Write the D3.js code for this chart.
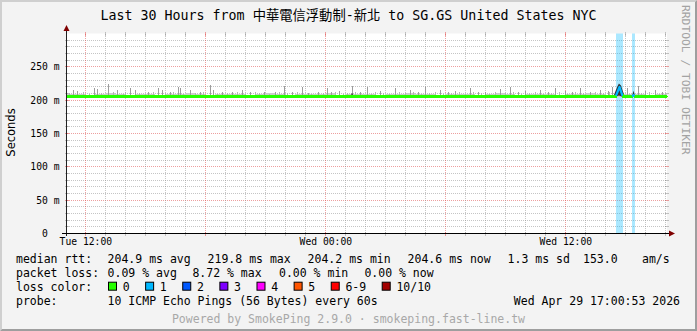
<!DOCTYPE html>
<html><head><meta charset="utf-8">
<script src="https://cdn.jsdelivr.net/npm/d3@7"></script>
<style>
body{margin:0;background:#f3f3f3}
svg{display:block}
.mono{font-family:"DejaVu Sans Mono","Noto Sans CJK TC",monospace}
</style>
</head><body>
<svg id="c" width="697" height="331"></svg>
<script>
// ---------------- data ----------------
const titleText = "Last 30 Hours from 中華電信浮動制-新北 to SG.GS United States NYC";
const yTicks = [0, 50, 100, 150, 200, 250];
const yMax = 300;
// time axis in hours since Tue 00:00
const timeStart = 11 + 5/60, timeEnd = 41 + 5/60;
const xTickHours = [12, 24, 36];
const xTickLabels = ["Tue 12:00", "Wed 00:00", "Wed 12:00"];

// median RTT (ms)
const medianHours  = [11.08,12,13,14,15,16,17,18,19,20,21,22,23,24,25,26,27,28,29,30,31,32,33,34,35,36,37,38,38.48,38.53,38.62,38.71,38.79,38.86,38.92,39.3,39.34,39.41,39.48,39.52,40,41.08];
const medianValues = [205.3,205.1,205.2,204.9,205.0,205.2,204.8,205.1,205.0,204.9,205.2,205.0,204.8,205.1,205.0,204.9,205.1,205.0,204.8,205.0,205.2,204.9,205.0,204.8,205.1,204.9,205.0,204.9,205.1,206.5,213.0,219.8,212.5,206.5,205.0,205.1,205.8,207.5,205.8,205.0,204.9,204.6];
const medianLoss   = [0,0,0,0,0,0,0,0,0,0,0,0,0,0,0,0,0,0,0,0,0,0,0,0,0,0,0,0,0,1,1,1,1,0,0,0,1,1,0,0,0,0];

// loss periods (full-height background)
const lossStartHours = [38.53, 39.33];
const lossEndHours   = [38.86, 39.48];
const lossCounts     = [1, 1];

// light smoke band top (ms), every 30 min from 11:00
const smokeBandTop = [209,210,208,209,211,209,208,210,209,208,209,210,211,209,208,209,210,209,208,210,211,209,208,209,210,209,211,208,209,210,209,208,210,209,211,210,209,208,209,210,209,208,210,211,209,208,209,210,209,208,209,210,211,209,208,209,210,209,208,210,209,208];
// tall smoke spikes: time (h) and max ping (ms)
const spikeHours = [11.38,11.58,12.43,12.58,13.13,13.58,14.23,14.48,15.13,15.63,15.83,16.23,16.63,16.73,17.23,17.73,18.23,18.38,18.83,19.33,19.83,20.23,20.93,21.48,21.93,22.33,22.83,23.13,23.63,24.08,24.28,24.68,25.33,25.73,26.08,26.73,27.48,28.23,28.63,28.98,29.73,30.13,30.48,31.23,31.63,31.98,32.73,33.23,33.63,33.98,34.73,35.13,35.48,35.98,36.33,36.73,37.23,37.73,38.13,38.33,39.08,39.63,39.98,40.48,40.83];
const spikeTops  = [215,214,219,217,225,215,219,216,212,218,215,213,220,218,215,212,223,215,212,213,216,213,213,212,222,213,220,211,213,218,213,214,222,213,220,214,218,215,212,220,216,213,214,218,212,213,217,220,213,214,216,212,219,214,212,218,213,216,214,220,218,222,214,216,213];
// small smoke spikes
const smallSpikeHours = [11.2,11.9,12.2,12.8,13.4,13.9,14.0,14.7,15.0,15.4,16.0,16.4,16.9,17.5,17.9,18.6,19.1,19.6,20.0,20.5,20.7,21.2,21.7,22.1,22.6,23.3,23.9,24.5,24.9,25.1,25.5,26.3,26.5,26.9,27.2,27.7,28.0,28.4,28.8,29.2,29.5,29.9,30.3,30.7,31.0,31.4,31.8,32.2,32.5,33.0,33.4,33.8,34.2,34.5,34.9,35.3,35.7,36.1,36.5,36.9,37.0,37.5,37.9,38.2,39.2,39.8,40.2,40.7,41.0];
const smallSpikeTops  = [211,212,210,211,213,210,212,211,210,212,211,213,210,211,212,210,211,213,210,212,211,210,212,211,213,210,211,212,210,211,213,210,212,211,210,212,211,213,210,211,212,210,211,213,210,212,211,210,212,211,213,210,211,212,210,211,213,210,212,211,210,212,211,213,210,211,212,210,211];
// dark smoke episodes: [hour, low ms, high ms]
const darkSmoke = [
  [[38.42,205,207],[38.50,205,213],[38.58,206,219],[38.68,207,225],[38.78,206,222],[38.86,205,215],[38.94,205,208]],
  [[39.36,205,209],[39.41,205,214],[39.46,205,209]],
  [[25.30,205,210],[25.37,205,210]]
];

// legend data
const rttLabels = ["avg","max","min","now"];
const rttValues = [204.9, 219.8, 204.2, 204.6];
const rttSd = 1.3;
const rttAmps = 153.0;
const lossLabels = ["avg","max","min","now"];
const lossValues = [0.09, 8.72, 0.00, 0.00];
const lossColorLabels = ["0","1","2","3","4","5","6-9","10/10"];
const lossColors = ["#26ff00","#00b8ff","#0059ff","#7e00ff","#ff00ff","#ff5500","#ff0000","#a10000"];
const probeText = "10 ICMP Echo Pings (56 Bytes) every 60s";
const dateText = "Wed Apr 29 17:00:53 2026";
const footerText = "Powered by SmokePing 2.9.0 · smokeping.fast-line.tw";
const watermark = "RRDTOOL / TOBI OETIKER";

// ---------------- drawing ----------------
const W = 697, H = 331;
const X0 = 67, X1 = 667, Y0 = 233.5, Y1 = 33.5;
const svg = d3.select("#c");
const crisp = v => Math.round(v - 0.5) + 0.5;

svg.append("rect").attr("width", W).attr("height", H).attr("fill", "#f3f3f3");
svg.append("path").attr("d", `M0,0H${W}L${W-2},2H2V${H-2}L0,${H}Z`).attr("fill", "#cfcfcf");
svg.append("path").attr("d", `M${W},0V${H}H0L2,${H-2}H${W-2}V2Z`).attr("fill", "#9e9e9e");

const xs = d3.scaleLinear().domain([timeStart, timeEnd]).range([X0, X1]);
const ys = d3.scaleLinear().domain([0, yMax]).range([Y0, Y1]);
const clampT = h => Math.max(timeStart, Math.min(timeEnd, h));

svg.append("rect").attr("x", X0).attr("y", Y1).attr("width", X1 - X0).attr("height", Y0 - Y1).attr("fill", "#fff");

// grid
const minorCol = "rgba(140,140,140,0.5)", majorCol = "rgba(222,80,80,0.55)";
const grid = svg.append("g").attr("shape-rendering", "crispEdges");
const hMinor = d3.range(10, yMax, 10).filter(v => v % 50 !== 0);
const hMajor = d3.range(50, yMax, 50);
function hLine(v, col) {
  const y = crisp(ys(v));
  grid.append("line").attr("x1", X0).attr("x2", X1).attr("y1", y).attr("y2", y)
    .attr("stroke", col).attr("stroke-dasharray", "1,1");
  grid.append("line").attr("x1", X0 - 2).attr("x2", X0 + 2).attr("y1", y).attr("y2", y).attr("stroke", col);
  grid.append("line").attr("x1", X1 - 2).attr("x2", X1 + 2).attr("y1", y).attr("y2", y).attr("stroke", col);
}
function vLine(h, col) {
  const x = crisp(xs(h));
  grid.append("line").attr("x1", x).attr("x2", x).attr("y1", Y1).attr("y2", Y0)
    .attr("stroke", col).attr("stroke-dasharray", "1,1");
  grid.append("line").attr("x1", x).attr("x2", x).attr("y1", Y0 - 2).attr("y2", Y0 + 2).attr("stroke", col);
  grid.append("line").attr("x1", x).attr("x2", x).attr("y1", Y1 - 2).attr("y2", Y1 + 2).attr("stroke", col);
}
hMinor.forEach(v => hLine(v, minorCol));
hMajor.forEach(v => hLine(v, majorCol));
const hours = d3.range(Math.ceil(timeStart), timeEnd, 1);
hours.filter(h => h % 6 !== 0).forEach(h => vLine(h, minorCol));
hours.filter(h => h % 6 === 0).forEach(h => vLine(h, majorCol));

// loss background
const lossIdx = c => c <= 5 ? c : (c < 10 ? 6 : 7);
svg.append("g").selectAll("rect").data(lossStartHours).join("rect")
  .attr("x", d => Math.round(xs(d)))
  .attr("width", (d, i) => Math.round(xs(lossEndHours[i])) - Math.round(xs(d)))
  .attr("y", Y1).attr("height", Y0 - Y1)
  .attr("fill", (d, i) => lossColors[lossIdx(lossCounts[i])]).attr("fill-opacity", 0.33);

// smoke band
const bandHours = smokeBandTop.map((v, i) => 11 + i * 0.5);
const band = bandHours.map((h, i) => [h, smokeBandTop[i]]);
svg.append("path").datum(band)
  .attr("d", d3.area().curve(d3.curveStepAfter)
    .x(d => xs(clampT(d[0]))).y0(ys(204.5)).y1(d => ys(d[1])))
  .attr("fill", "#cdcdcd").attr("shape-rendering", "crispEdges");
// spikes
const spikes = svg.append("g").attr("shape-rendering", "crispEdges");
spikes.selectAll("rect.s").data(smallSpikeHours).join("rect").attr("class", "s")
  .attr("x", d => Math.round(xs(d))).attr("width", 1)
  .attr("y", (d, i) => ys(smallSpikeTops[i])).attr("height", (d, i) => ys(205) - ys(smallSpikeTops[i]))
  .attr("fill", "#b4b4b4");
spikes.selectAll("rect.t").data(spikeHours).join("rect").attr("class", "t")
  .attr("x", d => Math.round(xs(d))).attr("width", 1)
  .attr("y", (d, i) => ys(spikeTops[i])).attr("height", (d, i) => ys(205) - ys(spikeTops[i]))
  .attr("fill", "#9c9c9c");
// dark smoke
svg.append("g").selectAll("path").data(darkSmoke).join("path")
  .attr("d", d3.area().x(d => xs(d[0])).y0(d => ys(d[1])).y1(d => ys(d[2])))
  .attr("fill", "#333");

// median line, coloured by loss
const pts = medianHours.map((h, i) => ({h, v: medianValues[i], c: lossColors[lossIdx(medianLoss[i])]}));
const runs = [];
for (let i = 0; i < pts.length - 1; i++) {
  const last = runs[runs.length - 1];
  if (last && last.c === pts[i].c) last.p.push(pts[i + 1]);
  else runs.push({c: pts[i].c, p: [pts[i], pts[i + 1]]});
}
const isOk = d => d.c === lossColors[0];
const stepLine = d3.line().curve(d3.curveStepAfter).x(d => xs(clampT(d.h))).y(d => ys(d.v));
const slopeLine = d3.line().x(d => xs(clampT(d.h))).y(d => ys(d.v));
svg.append("g").selectAll("path").data(runs).join("path")
  .attr("d", d => isOk(d) ? stepLine(d.p) : slopeLine(d.p)).attr("fill", "none")
  .attr("stroke", d => d.c).attr("stroke-width", d => isOk(d) ? 3 : 2.2)
  .attr("stroke-linejoin", "round")
  .attr("shape-rendering", d => isOk(d) ? "crispEdges" : "auto");

// axes
const yAx = svg.append("g").attr("class", "mono").attr("transform", `translate(59.5,0)`)
  .call(d3.axisLeft(ys).tickValues(yTicks).tickSize(0).tickPadding(0)
    .tickFormat(v => v === 0 ? "0  " : v + " m"));
yAx.select(".domain").remove();
yAx.selectAll("text").attr("xml:space", "preserve").style("white-space", "pre")
  .attr("font-size", 9.7).attr("fill", "#000").attr("font-family", "DejaVu Sans Mono");

const xAx = svg.append("g").attr("transform", `translate(0,${Y0})`)
  .call(d3.axisBottom(xs).tickValues(xTickHours).tickSize(0).tickPadding(4.5)
    .tickFormat((d, i) => xTickLabels[i]));
xAx.select(".domain").remove();
xAx.selectAll("text").attr("font-size", 9.7).attr("fill", "#000").attr("font-family", "DejaVu Sans Mono");

svg.append("line").attr("x1", X0 - 0.5).attr("x2", X0 - 0.5).attr("y1", Y0 + 2).attr("y2", 30)
  .attr("stroke", "#202020").attr("shape-rendering", "crispEdges");
svg.append("line").attr("x1", X0 - 5).attr("x2", X1 + 3).attr("y1", Y0).attr("y2", Y0)
  .attr("stroke", "#000").attr("shape-rendering", "crispEdges");
svg.append("path").attr("d", `M${X0-3.5},31L${X0+2.5},31L${X0-0.5},25Z`).attr("fill", "#7f0000");
svg.append("path").attr("d", `M${X1+2},${Y0-3}L${X1+2},${Y0+3}L${X1+8},${Y0}Z`).attr("fill", "#7f0000");

// title & labels
svg.append("text").attr("class", "mono").attr("x", 348.5).attr("y", 20).attr("text-anchor", "middle")
  .attr("font-size", 13.3).text(titleText);
svg.append("text").attr("transform", "translate(14.5,132.5) rotate(-90)").attr("text-anchor", "middle")
  .attr("font-family", "DejaVu Sans").attr("font-size", 11.5).text("Seconds");
svg.append("text").attr("class", "mono").attr("transform", "translate(682,5) rotate(90)")
  .attr("font-size", 11.3).attr("fill", "#a3a3a3").text(watermark);

// legend
const LF = 11.5, CW = LF * 0.602;
const leg = svg.append("g").attr("class", "mono").attr("font-size", LF).attr("fill", "#000");
const rowY = [262.7, 276.7, 290.7, 304.7];
const valX = 107.6;
function put(x, y, t, anchor) {
  leg.append("text").attr("x", x).attr("y", y).attr("text-anchor", anchor || "start")
    .attr("xml:space", "preserve").style("white-space", "pre").text(t);
}
put(16, rowY[0], "median rtt:");
rttValues.forEach((v, i) => put(valX + i * 100, rowY[0], `${v.toFixed(1)} ms ${rttLabels[i]}`));
put(valX + 400, rowY[0], `${rttSd.toFixed(1)} ms sd`);
put(583, rowY[0], rttAmps.toFixed(1));
put(642, rowY[0], "am/s");

put(16, rowY[1], "packet loss:");
const lossX = [107.6, 192.4, 279, 364.4];
lossValues.forEach((v, i) => put(lossX[i], rowY[1], `${v.toFixed(2)} % ${lossLabels[i]}`));

put(16, rowY[2], "loss color:");
let lx = 108.5;
lossColorLabels.forEach((lab, i) => {
  leg.append("rect").attr("x", lx).attr("y", rowY[2] - 8.5).attr("width", 8).attr("height", 8)
    .attr("fill", lossColors[i]).attr("stroke", "#000").attr("stroke-width", 1);
  put(lx + 14.2, rowY[2], lab);
  lx += 14.2 + lab.length * CW + 16;
});

put(16, rowY[3], "probe:");
put(valX, rowY[3], probeText);
put(680, rowY[3], dateText, "end");

svg.append("text").attr("class", "mono").attr("x", 348.5).attr("y", 322.5).attr("text-anchor", "middle")
  .attr("font-size", LF).attr("fill", "#a8a8a8").text(footerText);
</script>
</body></html>
